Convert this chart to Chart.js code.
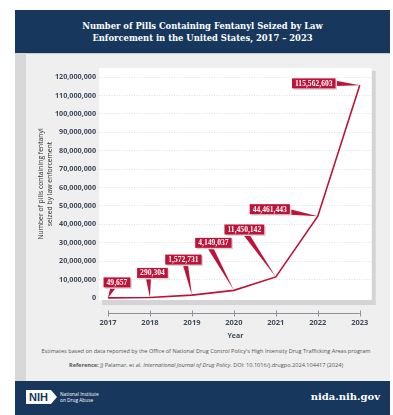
<!DOCTYPE html>
<html>
<head>
<meta charset="utf-8">
<script src="https://cdn.jsdelivr.net/npm/chart.js@4.4.1/dist/chart.umd.min.js"></script>
<style>
  body { margin: 0; width: 393px; height: 415px; background: #fff; position: relative; overflow: hidden; font-family: 'Open Sans', sans-serif; }
  #header { position: absolute; left: 15px; top: 10px; width: 375px; height: 43px; background: #17375c; color: #fff;
    font-family: 'DejaVu Serif', serif; font-weight: bold; font-size: 8.4px; line-height: 12px; text-align: center;
    display: flex; align-items: center; justify-content: center; }
  #panel { position: absolute; left: 15px; top: 53px; width: 375px; height: 328px; background: #efefef; border-top: 1px solid #c9c9c9; box-sizing: border-box; }
  #strip { position: absolute; left: 15px; top: 53px; width: 11px; height: 328px; background: #d8d8d8; }
  #chartBox { position: absolute; left: 15px; top: 52px; width: 372px; height: 290px; }
  .note { position: absolute; left: 22px; width: 368px; text-align: center; color: #555; font-size: 5.6px; }
  #footer { position: absolute; left: 15px; top: 381px; width: 375px; height: 34px; background: #17375c; color: #fff; }
  #nih { position: absolute; left: 11px; top: 9px; width: 22px; height: 14px; background: #fff; color: #17375c;
    font-family: 'Liberation Sans', sans-serif; font-weight: bold; font-size: 11px; line-height: 14px; padding-left: 3px; }
  #chev { position: absolute; left: 36px; top: 9px; width: 0; height: 0; border-top: 7px solid transparent; border-bottom: 7px solid transparent; border-left: 6px solid #fff; }
  #nida { position: absolute; left: 45px; top: 10px; font-size: 4.8px; line-height: 6px; }
  #url { position: absolute; right: 10px; top: 10px; font-family: 'DejaVu Serif', serif; font-weight: bold; font-size: 10px; }
</style>
</head>
<body>
<div id="header"><div>Number of Pills Containing Fentanyl Seized by Law<br>Enforcement in the United States, 2017 – 2023</div></div>
<div id="panel"></div>
<div id="strip"></div>
<div id="chartBox"><canvas id="pillsChart"></canvas></div>
<div class="note" style="top:347px;">Estimates based on data reported by the Office of National Drug Control Policy's High Intensity Drug Trafficking Areas program</div>
<div class="note" style="top:361px;"><b>Reference:</b> JJ Palamar, et al. <i>International Journal of Drug Policy</i>. DOI: 10.1016/j.drugpo.2024.104417 (2024)</div>
<div id="footer">
  <div id="nih">NIH</div><div id="chev"></div>
  <div id="nida">National Institute<br>on Drug Abuse</div>
  <div id="url">nida.nih.gov</div>
</div>
<script>
const years = [2017, 2018, 2019, 2020, 2021, 2022, 2023];
const pills = [49657, 290304, 1572731, 4149037, 11450142, 44461443, 115562603];
const yTicks = [0, 10000000, 20000000, 30000000, 40000000, 50000000, 60000000, 70000000, 80000000, 90000000, 100000000, 110000000, 120000000];

// box offset from point (dx, dy) and pointer anchor relative to box centre (ax, ay)
const callouts = [
    { dx: 9, dy: -15.5, ax: -4, ay: 5 },
    { dx: 2.5, dy: -24.5, ax: -4, ay: 5 },
    { dx: -8.5, dy: -35.5, ax: 2, ay: 5 },
    { dx: -20.5, dy: -47.5, ax: -3, ay: 5 },
    { dx: -31.5, dy: -47.4, ax: 2, ay: 5 },
    { dx: -48, dy: -7, ax: 21, ay: 3 },
    { dx: -46, dy: -2, ax: 22, ay: 0 }
];

const RED = '#be1338';
const SLATE = '#3f4b5b';

const panelPlugin = {
    id: 'panel',
    beforeDraw(chart) {
        const { ctx, chartArea: a } = chart;
        ctx.save();
        ctx.fillStyle = '#d4d4d4';
        ctx.fillRect(a.left + 3, a.top + 3, a.right - a.left + 1, a.bottom - a.top + 2);
        ctx.fillStyle = '#ffffff';
        ctx.fillRect(a.left, a.top, a.right - a.left, a.bottom - a.top);
        ctx.restore();
    },
    afterDraw(chart) {
        const { ctx, chartArea: a, scales } = chart;
        const xs = scales.x, ys = scales.y;
        ctx.save();
        // x axis line with end ticks
        const yLine = a.bottom + 13.5;
        ctx.strokeStyle = '#8a929c';
        ctx.lineWidth = 1;
        ctx.beginPath();
        ctx.moveTo(xs.getPixelForValue(years[0]), yLine);
        ctx.lineTo(xs.getPixelForValue(years[years.length - 1]), yLine);
        years.forEach(yr => {
            const px = Math.round(xs.getPixelForValue(yr)) + 0.5;
            ctx.moveTo(px, yLine - 3);
            ctx.lineTo(px, yLine + 3);
        });
        ctx.stroke();

        // callouts
        ctx.font = 'bold 7.6px "Liberation Serif"';
        ctx.textAlign = 'center';
        ctx.textBaseline = 'middle';
        pills.forEach((v, i) => {
            const c = callouts[i];
            const px = xs.getPixelForValue(years[i]);
            const py = ys.getPixelForValue(v);
            const cx = px + c.dx, cy = py + c.dy;
            const label = v.toLocaleString('en-US');
            const w = ctx.measureText(label).width + 6, h = 10;
            const bx = cx + c.ax, by = cy + c.ay;
            const ang = Math.atan2(py - by, px - bx);
            const nx = -Math.sin(ang) * 2.6, ny = Math.cos(ang) * 2.6;
            ctx.fillStyle = RED;
            ctx.beginPath();
            ctx.moveTo(bx + nx, by + ny);
            ctx.lineTo(px, py);
            ctx.lineTo(bx - nx, by - ny);
            ctx.closePath();
            ctx.fill();
            ctx.fillStyle = '#d6d6d6';
            ctx.fillRect(cx - w / 2 + 1.5, cy - h / 2 + 1.5, w, h);
            ctx.fillStyle = RED;
            ctx.fillRect(cx - w / 2, cy - h / 2, w, h);
            ctx.fillStyle = '#ffffff';
            ctx.fillText(label, cx, cy + 0.5);
        });
        ctx.restore();
    }
};

const ctx = document.getElementById('pillsChart').getContext('2d');
const pillsChart = new Chart(ctx, {
    type: 'line',
    data: {
        datasets: [{
            label: 'Pills seized',
            data: years.map((yr, i) => ({ x: yr, y: pills[i] })),
            borderColor: RED,
            borderWidth: 1.6,
            pointRadius: 0,
            tension: 0,
            fill: false
        }]
    },
    options: {
        responsive: true,
        maintainAspectRatio: false,
        animation: false,
        layout: { padding: { left: 21, right: 15, top: 16, bottom: 2 } },
        scales: {
            x: {
                type: 'linear',
                min: 2016.786,
                max: 2023.286,
                afterBuildTicks: axis => { axis.ticks = years.map(v => ({ value: v })); },
                afterFit: axis => { axis.height = 40; },
                grid: { display: false, drawTicks: false },
                border: { display: false },
                ticks: {
                    padding: 18,
                    maxRotation: 0,
                    autoSkip: false,
                    color: SLATE,
                    font: { family: 'Open Sans', size: 7.5, weight: 'bold' },
                    callback: v => String(v)
                },
                title: {
                    display: true,
                    text: 'Year',
                    color: SLATE,
                    padding: { top: 2, bottom: 0 },
                    font: { family: 'Open Sans', size: 7, weight: 'bold' }
                }
            },
            y: {
                min: -1100000,
                max: 125000000,
                afterBuildTicks: axis => { axis.ticks = yTicks.map(v => ({ value: v })); },
                afterFit: axis => { axis.width = 63; },
                grid: {
                    color: ctx => ctx.tick.value === 0 ? 'rgba(0,0,0,0)' : '#d9d9d9',
                    lineWidth: 0.8,
                    drawTicks: false
                },
                border: { display: false, dash: [1, 1.5] },
                ticks: {
                    padding: 3,
                    color: SLATE,
                    font: { family: 'Open Sans', size: 7.2, weight: 'bold' },
                    callback: v => v.toLocaleString('en-US')
                },
                title: {
                    display: true,
                    text: ['Number of pills containing fentanyl', 'seized by law enforcement'],
                    color: '#333',
                    padding: { top: 0, bottom: 4 },
                    font: { family: 'Open Sans', size: 6.8, lineHeight: 1.4 }
                }
            }
        },
        plugins: {
            legend: { display: false },
            tooltip: { enabled: false }
        }
    },
    plugins: [panelPlugin]
});
</script>
</body>
</html>
